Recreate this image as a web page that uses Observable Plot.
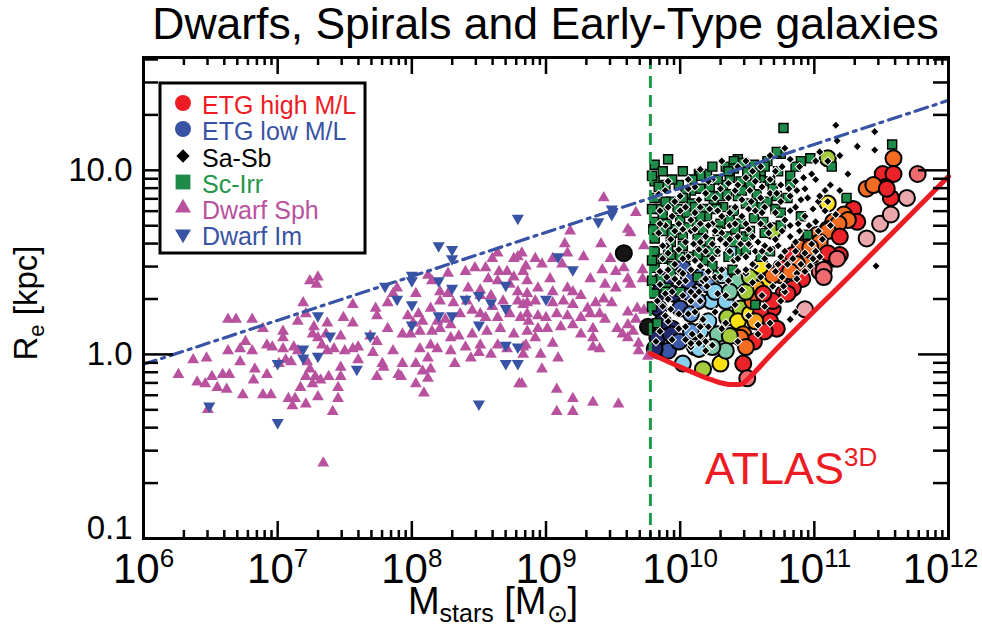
<!DOCTYPE html>
<html><head><meta charset="utf-8">
<script src="https://cdn.jsdelivr.net/npm/d3@7"></script>
<script src="https://cdn.jsdelivr.net/npm/@observablehq/plot@0.6"></script>
<style>body{margin:0;background:#fff;font-family:"Liberation Sans",Arial,sans-serif}</style>
</head><body><div id="chart"></div>
<script>
// ---- data: [log10 M*/Msun, log10 Re/kpc] ----
const dwarfSph = [[6.26,-0.11],[6.37,-0.03],[6.47,-0.02],[6.40,-0.15],[6.46,-0.16],[6.51,-0.12],[6.59,-0.11],[6.64,-0.11],[6.55,-0.18],[6.62,-0.19],[6.48,-0.30],[6.63,0.19],[6.69,0.19],[6.81,0.19],[6.63,0.02],[6.72,-0.04],[6.76,0.07],[6.72,0.03],[6.81,0.02],[6.83,-0.08],[6.82,-0.14],[6.92,-0.11],[6.74,-0.22],[6.89,-0.22],[6.95,-0.22],[6.89,0.14],[6.92,0.05],[6.96,0.04],[7.04,0.125],[7.04,0.09],[7.04,0.03],[7.01,-0.05],[7.06,-0.03],[7.12,0.04],[7.15,0.18],[7.19,0.28],[7.21,0.22],[7.24,0.40],[7.30,0.42],[7.29,0.38],[7.26,0.11],[7.27,0.15],[7.30,0.09],[7.33,0.05],[7.37,0.17],[7.36,0.11],[7.37,0.02],[7.42,0.03],[7.49,0.20],[7.47,0.10],[7.50,0.02],[7.56,0.27],[7.56,0.17],[7.60,0.04],[7.56,0.03],[7.60,-0.03],[7.15,0.02],[7.10,-0.04],[7.22,-0.04],[7.24,-0.08],[7.21,-0.12],[7.28,-0.12],[7.32,-0.14],[7.38,-0.12],[7.47,-0.07],[7.47,-0.12],[7.08,-0.24],[7.13,-0.24],[7.17,-0.18],[7.11,-0.28],[7.21,-0.27],[7.30,-0.23],[7.45,-0.24],[7.45,-0.18],[7.41,-0.31],[7.26,-0.16],[7.34,-0.59],[7.73,0.25],[7.74,0.21],[7.82,0.28],[7.89,0.36],[7.86,0.33],[7.69,0.10],[7.74,0.07],[7.82,0.14],[7.71,0.01],[7.78,-0.05],[7.79,-0.07],[7.86,0.02],[7.90,-0.11],[7.74,-0.12],
[8.64,0.55],[8.79,0.53],[8.76,0.52],[8.82,0.55],[8.60,0.52],[8.40,0.45],[8.47,0.47],[8.55,0.47],[8.27,0.44],[8.12,0.43],[8.15,0.40],[8.65,0.45],[8.71,0.45],[8.76,0.42],[8.83,0.45],[8.57,0.41],[8.64,0.40],[8.73,0.38],[8.79,0.34],[8.86,0.40],[8.51,0.35],[8.42,0.36],[8.21,0.34],[8.27,0.33],[8.03,0.33],[8.31,0.28],[8.41,0.29],[8.51,0.32],[8.59,0.32],[8.60,0.26],[8.68,0.29],[8.79,0.29],[8.86,0.28],[8.21,0.29],[8.14,0.25],[8.05,0.22],[7.97,0.21],[8.01,0.17],[8.08,0.18],[8.19,0.18],[8.25,0.19],[8.29,0.16],[8.36,0.22],[8.45,0.24],[8.51,0.22],[8.55,0.20],[8.64,0.20],[8.73,0.22],[8.81,0.20],[8.87,0.18],[7.93,0.11],[7.99,0.11],[8.06,0.125],[8.15,0.125],[8.21,0.14],[8.29,0.09],[8.35,0.10],[8.45,0.11],[8.56,0.125],[8.66,0.14],[8.76,0.11],[8.86,0.125],[8.14,0.05],[8.06,0.03],[8.19,0.03],[8.29,0.02],[8.40,0.04],[8.51,0.05],[8.64,0.05],[8.71,0.03],[8.83,0.04],[7.93,-0.05],[8.03,-0.05],[8.12,-0.02],[8.32,-0.05],[8.44,-0.02],[8.50,0.01],[8.59,0.00],[8.08,-0.09],[8.14,-0.08],[8.12,-0.13],[8.03,-0.16],[8.09,-0.21],[8.80,-0.16],[7.92,-0.12],
[9.43,0.85],[9.67,0.77],[9.18,0.67],[9.61,0.68],[9.63,0.66],[9.41,0.60],[9.28,0.53],[9.05,0.52],[9.14,0.60],[9.16,0.55],[9.12,0.49],[8.92,0.52],[8.97,0.49],[8.85,0.48],[9.73,0.59],[9.48,0.52],[9.42,0.46],[9.33,0.41],[9.52,0.45],[9.58,0.47],[9.72,0.46],[9.61,0.41],[9.63,0.38],[9.52,0.36],[9.44,0.38],[9.72,0.41],[9.03,0.41],[8.94,0.36],[9.05,0.34],[9.16,0.36],[9.20,0.34],[9.26,0.32],[8.86,0.33],[8.83,0.27],[8.92,0.29],[9.05,0.28],[9.13,0.29],[9.20,0.27],[9.31,0.25],[9.37,0.28],[9.43,0.30],[9.49,0.28],[9.40,0.22],[9.61,0.23],[9.68,0.25],[9.73,0.24],[8.86,0.22],[8.94,0.21],[9.00,0.20],[9.08,0.22],[9.16,0.21],[9.26,0.20],[9.33,0.22],[9.44,0.19],[9.53,0.14],[9.61,0.16],[9.67,0.19],[9.65,0.125],[9.57,0.11],[8.94,0.14],[9.01,0.14],[9.11,0.15],[9.20,0.16],[9.26,0.11],[9.35,0.14],[9.35,0.09],[8.92,0.09],[9.05,0.06],[9.40,0.03],[9.35,0.04],[9.61,0.09],[9.69,0.06],[9.69,0.02],[9.76,-0.01],[8.85,0.05],[8.83,0.00],[8.96,0.00],[9.09,-0.02],[8.97,-0.08],[8.82,-0.16],[9.08,-0.19],[9.20,-0.24],[9.35,-0.26],[9.08,-0.31],[9.20,-0.31],[9.54,-0.27]];

const dwarfIm = [[6.49,-0.28],[7.00,-0.37],[7.00,-0.05],[7.19,0.03],[7.19,-0.02],[7.30,-0.01],[7.30,0.21],[7.39,0.10],[7.59,-0.08],[7.69,0.10],[7.80,0.37],[7.89,0.30],[8.79,0.74],[8.20,0.59],[8.30,0.57],[8.30,0.52],[8.00,0.43],[8.00,0.40],[8.20,0.40],[8.30,0.36],[8.40,0.30],[8.50,0.32],[8.59,0.28],[8.70,0.375],[8.70,0.25],[8.00,0.27],[8.20,0.21],[8.30,0.21],[8.00,0.16],[8.50,0.16],[8.70,0.05],[8.79,0.04],[8.70,-0.05],[8.79,-0.05],[8.50,-0.27],[9.39,0.72],[9.49,0.76],[9.49,0.79],[9.09,0.53],[9.20,0.46],[9.00,0.30]];

// ETG: [log M, log Re, M/L class 0 (lowest) .. 12 (highest)]
const etg = [[9.58,0.55,0],[9.76,0.15,0],[9.84,0.25,1],[9.83,0.09,1],[9.84,0.02,1],[9.91,0.02,2],[9.94,0.14,1],[10.00,0.25,2],[9.95,0.33,1],[9.90,0.41,1],[10.02,0.47,2],[10.08,0.33,2],[10.08,0.22,3],[10.11,0.04,4],[10.02,-0.05,4],[10.17,-0.08,6],[10.30,-0.05,7],[10.47,-0.05,10],[10.50,-0.13,11],[10.20,0.38,3],[10.23,0.29,4],[10.21,0.18,4],[10.28,0.11,5],[10.35,0.20,6],[10.31,0.43,4],[10.40,0.56,4],[10.43,0.40,5],[10.45,0.25,6],[10.43,0.18,7],[10.47,0.11,9],[10.55,0.07,10],[10.52,0.22,7],[10.57,0.33,7],[10.65,0.40,7],[10.62,0.22,9],[10.69,0.25,10],[10.69,0.67,6],[10.75,0.43,9],[10.80,0.51,9],[10.77,0.33,10],[11.10,1.065,6],[11.10,0.82,7],[9.93,0.11,1],[9.81,0.03,1],[10.14,0.03,4],[10.45,0.09,9],[10.69,0.29,10],[10.93,0.245,12],[11.04,0.45,11],[11.14,0.52,11],[11.19,0.54,10],[11.39,0.63,12],[11.49,0.71,12],[11.57,0.76,12],[11.69,0.85,12],[11.77,0.98,11],[11.59,1.065,9],[11.51,0.98,10],[11.59,0.98,10],[11.53,0.91,10],[11.57,0.85,10],[11.39,0.90,9],[11.44,0.92,9],[11.29,0.79,10],[11.22,0.76,9],[11.14,0.72,9],[11.10,0.68,10],[11.02,0.65,9],[10.95,0.61,10],[10.89,0.58,9],[10.84,0.54,10],[10.75,0.47,10],[10.69,0.43,9],[10.57,0.36,8],[10.54,0.29,9],[10.62,0.33,10],[10.60,0.22,10],[10.67,0.18,10],[10.72,0.14,10],[11.54,0.90,10],[11.32,0.72,10],[11.25,0.73,9],[11.18,0.71,9],[11.10,0.67,9],[11.19,0.64,10],[11.04,0.61,9],[11.10,0.55,10],[11.17,0.52,11],[11.07,0.46,11],[11.07,0.42,11],[10.99,0.54,10],[10.97,0.58,9],[10.92,0.49,9],[10.87,0.49,9],[10.82,0.45,9],[10.91,0.41,10],[10.84,0.36,10],[10.80,0.33,10],[10.15,0.42,3],[10.26,0.34,4],[10.34,0.29,4],[10.37,0.34,5],[10.49,0.34,6],[10.52,0.42,6],[10.60,0.48,7],[10.56,0.18,8],[10.49,0.04,9],[10.63,0.125,10],[10.37,0.10,6],[10.34,0.02,5],[10.15,0.125,4],[10.08,0.125,3],[9.99,0.07,2],[9.87,0.18,1],[9.85,0.34,1],[10.06,0.40,2],[10.13,0.29,3],[10.24,0.04,5]];

const scIrr = [[9.81,1.03],[9.87,0.995],[10.14,0.98],[10.20,0.98],[10.43,1.06],[10.45,1.03],[10.34,1.02],[10.50,0.995],[10.55,1.03],[10.65,1.05],[10.75,1.09],[10.72,1.10],[9.89,0.92],[9.99,0.92],[10.08,0.89],[10.15,0.90],[10.22,0.90],[10.32,0.92],[10.37,0.96],[10.45,0.94],[10.52,0.92],[10.60,0.96],[10.67,0.94],[9.81,0.85],[9.85,0.79],[9.93,0.83],[9.98,0.79],[10.08,0.82],[10.17,0.79],[10.25,0.84],[10.32,0.80],[10.43,0.86],[10.49,0.82],[10.57,0.87],[10.65,0.83],[10.72,0.86],[10.80,0.85],[9.81,0.72],[9.90,0.71],[10.00,0.73],[10.10,0.72],[10.20,0.75],[10.30,0.71],[10.37,0.73],[10.45,0.71],[10.55,0.74],[10.62,0.72],[9.81,0.63],[9.93,0.61],[10.02,0.65],[10.13,0.63],[10.22,0.61],[10.35,0.64],[10.40,0.61],[9.81,0.56],[9.93,0.54],[9.81,0.47],[9.85,0.41],[9.90,0.36],[9.81,0.33],[10.28,0.43],[10.56,0.27],[9.83,0.17],[10.67,0.56],[10.77,1.23],[11.58,1.14],[11.13,1.02],[11.24,0.85],[10.95,0.65],[10.97,1.065],[10.15,0.97],[10.40,1.05],[10.47,1.04],[9.94,0.48],[10.08,0.53],[10.19,0.51],[10.45,0.56],[9.81,0.94],[10.26,0.56],[10.15,0.57],
[9.84,0.91],[9.94,0.95],[10.04,0.875],[10.28,0.95],[10.40,1.01],[10.60,0.995],[10.82,0.97],[10.90,1.05],[9.87,0.76],[10.05,0.77],[10.27,0.79],[10.40,0.78],[10.60,0.80],[10.71,0.79],[9.87,0.67],[9.97,0.68],[10.17,0.68],[10.49,0.64],[10.75,0.77],[9.87,0.52],[10.00,0.53],[9.93,0.44],[10.90,0.75],[10.30,0.86],
[9.79,0.97],[9.91,1.06],[10.02,0.995],[10.09,0.95],[10.24,1.02],[10.36,0.995],[10.56,0.97],[10.63,1.02],[10.73,0.995],[10.86,1.02],[9.79,0.79],[9.89,0.83],[10.02,0.85],[10.11,0.80],[10.22,0.86],[10.35,0.87],[10.46,0.89],[10.54,0.815],[10.69,0.90],[10.82,0.92],[9.80,0.68],[9.94,0.66],[10.06,0.69],[10.15,0.75],[10.28,0.67],[10.41,0.68],[10.52,0.67],[10.63,0.66],[10.75,0.70],[9.79,0.51],[9.91,0.57],[10.02,0.59],[10.13,0.54],[10.24,0.56],[10.36,0.53],[10.49,0.57],[10.60,0.53],[9.79,0.40],[9.89,0.34],[10.00,0.34],[10.13,0.42],[10.24,0.48],[10.39,0.46],[9.79,0.26]];

const saSb = [[10.49,1.05],[10.60,1.02],[10.71,0.995],[10.82,1.06],[10.89,1.02],[10.98,0.98],[11.04,1.10],[11.10,1.05],[11.16,1.245],[11.17,1.16],[11.32,1.13],[11.45,1.21],[11.45,1.11],[10.78,1.12],[10.67,1.08],
[9.89,0.89],[10.00,0.86],[10.11,0.91],[10.19,0.875],[10.30,0.90],[10.41,0.89],[10.52,0.89],[10.61,0.91],[10.75,0.92],[10.86,0.94],[10.93,0.90],[11.01,0.95],[11.08,0.89],[11.25,0.98],[11.12,0.92],[10.82,0.86],[10.95,0.85],
[9.85,0.78],[9.94,0.75],[10.04,0.80],[10.11,0.77],[10.22,0.79],[10.31,0.75],[10.41,0.80],[10.46,0.75],[10.56,0.78],[10.63,0.80],[10.71,0.77],[10.78,0.73],[10.86,0.80],[10.93,0.75],[11.01,0.72],[11.08,0.78],[11.16,0.76],[10.75,0.83],
[9.84,0.66],[9.93,0.625],[10.02,0.68],[10.10,0.60],[10.19,0.64],[10.26,0.67],[10.34,0.60],[10.43,0.64],[10.51,0.68],[10.58,0.61],[10.66,0.66],[10.73,0.59],[10.82,0.64],[10.89,0.67],[10.98,0.60],[11.06,0.625],[10.08,0.67],
[9.87,0.52],[9.96,0.49],[10.06,0.53],[10.15,0.48],[10.24,0.52],[10.31,0.46],[10.40,0.51],[10.49,0.53],[10.56,0.48],[10.63,0.52],[10.71,0.45],[10.80,0.49],[10.87,0.44],[10.97,0.48],[10.37,0.56],[10.52,0.59],
[9.85,0.38],[9.94,0.34],[10.04,0.40],[10.11,0.32],[10.20,0.37],[10.28,0.33],[10.36,0.40],[10.46,0.35],[10.54,0.39],[10.61,0.32],[10.69,0.37],[10.78,0.34],[10.87,0.41],
[9.87,0.26],[9.99,0.22],[10.08,0.29],[10.17,0.19],[10.26,0.23],[10.34,0.17],[10.41,0.27],[10.51,0.21],[10.63,0.26],[10.75,0.29],[10.82,0.19],
[9.85,0.125],[9.94,0.08],[10.04,0.15],[10.15,0.10],[10.24,0.05],[10.31,0.14],[10.43,0.07],[10.58,0.11],[10.67,0.17],[10.86,0.23],
[11.46,0.48],[9.82,0.07],[9.91,0.18],[10.08,0.04],[10.21,0.15],[10.58,0.16],[10.77,0.37],
[10.24,0.95],[10.36,0.85],[10.53,0.83],[10.67,0.875],[10.87,0.89],[11.03,0.83],[10.15,0.71],[10.37,0.70],[10.60,0.71],[10.82,0.70],[10.96,0.70],[9.99,0.57],[10.19,0.56],[10.45,0.60],[10.67,0.57],[10.86,0.56],[11.04,0.53],[10.00,0.45],[10.26,0.42],[10.49,0.44],[10.60,0.42],[10.15,0.29],[10.34,0.32],[9.90,0.42],[9.90,0.59],[9.83,0.29],
[9.91,0.94],[10.06,0.95],[10.36,0.93],[10.49,0.96],[10.67,0.95],[10.92,0.96],
[9.96,0.83],[10.14,0.84],[10.26,0.85],[10.46,0.84],[10.60,0.85],[10.72,0.875],[11.04,0.86],
[9.89,0.70],[9.99,0.71],[10.08,0.73],[10.24,0.71],[10.31,0.66],[10.49,0.71],[10.67,0.70],[10.76,0.67],[10.88,0.71],[11.12,0.70],
[9.87,0.59],[10.04,0.61],[10.14,0.57],[10.24,0.60],[10.37,0.625],[10.56,0.56],[10.63,0.59],[10.78,0.56],[10.93,0.55],[11.01,0.56],
[9.91,0.46],[10.02,0.44],[10.11,0.51],[10.21,0.45],[10.43,0.45],[10.54,0.49],[10.66,0.48],[10.76,0.42],[10.84,0.52],[10.93,0.45],
[9.89,0.33],[9.99,0.39],[10.08,0.34],[10.17,0.40],
[9.93,0.245],[10.11,0.23],
[9.99,0.14],[10.09,0.11],[10.19,0.07],
[10.08,0.06],[10.19,0.02],
[10.15,1.005],[10.31,1.05],[10.43,1.02],[10.54,0.995],[10.76,1.02],[11.01,1.05],[11.19,1.08],
[9.84,0.87],[10.06,0.90],[10.21,0.94],[10.43,0.92],[10.56,0.94],[10.81,0.90],[10.90,0.84],[11.19,0.89],
[9.91,0.80],[10.00,0.78],[10.15,0.80],[10.28,0.78],[10.37,0.77],[10.51,0.79],[10.61,0.77],[10.82,0.78],[10.99,0.79],[11.10,0.83],
[9.85,0.71],[9.96,0.67],[10.11,0.68],[10.21,0.70],[10.30,0.625],[10.41,0.71],[10.54,0.64],[10.71,0.625],[10.86,0.61],[11.03,0.67],
[9.91,0.55],[10.02,0.52],[10.15,0.61],[10.28,0.56],[10.43,0.52],[10.51,0.60],[10.61,0.56],[10.75,0.53],[10.90,0.49],[10.99,0.52],
[9.85,0.45],[9.96,0.41],[10.08,0.46],[10.19,0.41],[10.30,0.42],[10.49,0.46],[10.73,0.49],
[9.91,0.30],[10.02,0.32],[10.14,0.34],
[9.89,0.21],[10.06,0.22],[10.15,0.15],
[10.04,0.08],[10.14,0.06]];

// reference lines
const sizeLimitLine = [[6, -0.054], [12, 1.38]];                // blue dash-dot
const zoeLine = [[9.778,0.005],[10.024,-0.076],[10.225,-0.136],[10.374,-0.163],[10.449,-0.163],[10.523,-0.120],[10.650,-0.022],[11.32,0.467],[12.0,0.967]];
const massLimit = 6e9;                                          // green dashed
const atlasLabel = {m: 1.54e10, r: 0.196};

// ticks & labels
const xTickValues = [1e6,1e7,1e8,1e9,1e10,1e11];
const xTickLast = [1e12];
const yTickValues = [1, 10];
const yTickBottom = [0.1];
const etgPalette = ["#151515","#23286a","#3a55a5","#5e8fd0","#86d0ee","#7cc7a4","#a3cb3b","#fde012","#f9a11b","#f36c21","#ec2328","#ef6b70","#eba8ac"];
const legendItems = [
  {label: "ETG high M/L", color: "#ed1c24", text: "#ed1c24", sym: "circle"},
  {label: "ETG low M/L", color: "#3953a4", text: "#3953a4", sym: "circle"},
  {label: "Sa-Sb", color: "#000000", text: "#000000", sym: "diamond"},
  {label: "Sc-Irr", color: "#1f8b48", text: "#23964a", sym: "square"},
  {label: "Dwarf Sph", color: "#b8529e", text: "#b8529e", sym: "triangle"},
  {label: "Dwarf Im", color: "#3953a4", text: "#3953a4", sym: "triangleDown"}
];

// ---- build ----
const pt = a => a.map(([lm, lr, c]) => ({m: 10 ** lm, r: 10 ** lr, c}));
const W = 982, H = 635, mt = 57, mb = 97, mL = 143, mR = 34;
const fw = W - mL - mR, fh = H - mt - mb;
const xMinor = d3.range(6, 12).flatMap(e => d3.range(2, 10).map(k => k * 10 ** e));
const xMajor = [1e7, 1e8, 1e9, 1e10, 1e11];
const yMinor = [-1, 0, 1].flatMap(e => d3.range(2, 10).map(k => k * 10 ** e)).filter(v => v < 41);
const yMajor = [1, 10];
const tk = {stroke: "black", strokeWidth: 2.5};
const xFmt = d => "10^" + Math.round(Math.log10(d));

const plot = Plot.plot({
  width: W, height: H, marginTop: mt, marginBottom: mb, marginLeft: mL, marginRight: mR,
  style: {fontFamily: "'Liberation Sans', Arial, sans-serif", background: "white"},
  x: {type: "log", domain: [1e6, 1e12]},
  y: {type: "log", domain: [0.1, 41]},
  color: {type: "ordinal", domain: d3.range(13), range: etgPalette},
  marks: [
    Plot.dot(pt(etg), {x: "m", y: "r", r: 8, fill: "c", stroke: "black", strokeWidth: 2}),
    Plot.dot(pt(dwarfSph), {x: "m", y: "r", symbol: "triangle", r: 4.4, fill: "#b8529e"}),
    Plot.dot(pt(dwarfIm), {x: "m", y: "r", symbol: "triangle", rotate: 180, r: 4.5, fill: "#3953a4"}),
    Plot.dot(pt(scIrr), {x: "m", y: "r", symbol: "square", r: 5.1, fill: "#1f8b48", stroke: "black", strokeWidth: 1.4}),
    Plot.dot(pt(saSb), {x: "m", y: "r", symbol: "square", rotate: 45, r: 3.4, fill: "black", stroke: "white", strokeWidth: 1}),
    Plot.ruleX([massLimit], {stroke: "#1f9a4a", strokeWidth: 3, strokeDasharray: "12,7"}),
    Plot.line(pt(sizeLimitLine), {x: "m", y: "r", stroke: "#3953a4", strokeWidth: 3.2, strokeDasharray: "13,6,3,6"}),
    Plot.line(pt(zoeLine), {x: "m", y: "r", stroke: "#ec1c24", strokeWidth: 5, curve: "monotone-x"}),
    Plot.tickX(xMinor, {...tk, insetTop: fh - 8}),
    Plot.tickX(xMinor, {...tk, insetBottom: fh - 8}),
    Plot.tickX(xMajor, {...tk, insetTop: fh - 17}),
    Plot.tickX(xMajor, {...tk, insetBottom: fh - 17}),
    Plot.tickY(yMinor, {...tk, insetRight: fw - 15}),
    Plot.tickY(yMinor, {...tk, insetLeft: fw - 15}),
    Plot.tickY(yMajor, {...tk, insetRight: fw - 30}),
    Plot.tickY(yMajor, {...tk, insetLeft: fw - 30}),
    Plot.frame({stroke: "black", strokeWidth: 3}),
    Plot.axisX({ticks: xTickValues, tickSize: 0, tickPadding: 15, fontSize: 42, label: null, tickFormat: xFmt}),
    Plot.axisX({ticks: xTickLast, tickSize: 0, tickPadding: 15, fontSize: 42, label: null, tickFormat: xFmt, dx: -8}),
    Plot.axisY({ticks: yTickValues, tickSize: 0, tickPadding: 11, fontSize: 33, label: null,
      tickFormat: d => d.toFixed(1)}),
    Plot.axisY({ticks: yTickBottom, tickSize: 0, tickPadding: 11, fontSize: 33, label: null, dy: -10,
      tickFormat: d => d.toFixed(1)})
  ]
});

const svg = d3.select(plot);
// superscript exponents on x tick labels
svg.selectAll('[aria-label="x-axis tick label"] text').each(function () {
  const t = d3.select(this);
  const [base, exp] = t.text().split("^");
  t.text(null);
  t.append("tspan").text(base);
  t.append("tspan").attr("font-size", 26).attr("dy", -16).text(exp);
});

const xs = plot.scale("x"), ys = plot.scale("y");
// title
svg.append("text").attr("x", mL + fw / 2).attr("y", 39).attr("text-anchor", "middle")
  .attr("font-size", 44.5).attr("fill", "black").text("Dwarfs, Spirals and Early-Type galaxies");
// y label
const yl = svg.append("text").attr("transform", "translate(37,303) rotate(-90)")
  .attr("text-anchor", "middle").attr("font-size", 33).attr("fill", "black");
yl.append("tspan").text("R");
yl.append("tspan").attr("font-size", 22).attr("dy", 7).text("e");
yl.append("tspan").attr("dy", -7).text(" [kpc]");
// x label
const xl = svg.append("text").attr("x", 493).attr("y", 614).attr("text-anchor", "middle")
  .attr("font-size", 38).attr("fill", "black");
xl.append("tspan").text("M");
xl.append("tspan").attr("font-size", 25).attr("dy", 8).text("stars");
xl.append("tspan").attr("dy", -8).text(" [M");
xl.append("tspan").attr("font-size", 25).attr("dy", 8).text("\u2299");
xl.append("tspan").attr("dy", -8).text("]");
// ATLAS3D label
const at = svg.append("text").attr("x", xs.apply(atlasLabel.m)).attr("y", ys.apply(atlasLabel.r))
  .attr("text-anchor", "start").attr("font-size", 45).attr("fill", "#ed1c24");
at.append("tspan").text("ATLAS");
at.append("tspan").attr("font-size", 26).attr("dy", -18).text("3D");

// legend
const lg = svg.append("g").attr("text-anchor", "start");
lg.append("rect").attr("x", 160).attr("y", 83).attr("width", 205).attr("height", 170)
  .attr("fill", "white").attr("stroke", "black").attr("stroke-width", 3);
const symDefs = {
  circle: [d3.symbolCircle, 201, 0],
  diamond: [d3.symbolSquare, 88, 45],
  square: [d3.symbolSquare, 220, 0],
  triangle: [d3.symbolTriangle, 111, 0],
  triangleDown: [d3.symbolTriangle, 111, 180]
};
const rowY = [103, 129, 156, 182, 208, 234];
legendItems.forEach((it, i) => {
  const [s, size, rot] = symDefs[it.sym];
  lg.append("path").attr("d", d3.symbol(s, size)())
    .attr("transform", `translate(183,${rowY[i]}) rotate(${rot})`).attr("fill", it.color);
  lg.append("text").attr("x", 202).attr("y", rowY[i] + 6).attr("dy", "0.2em")
    .attr("text-anchor", "start").attr("font-size", 25).attr("fill", it.text).text(it.label);
});

document.getElementById("chart").appendChild(plot);
</script>
</body></html>
